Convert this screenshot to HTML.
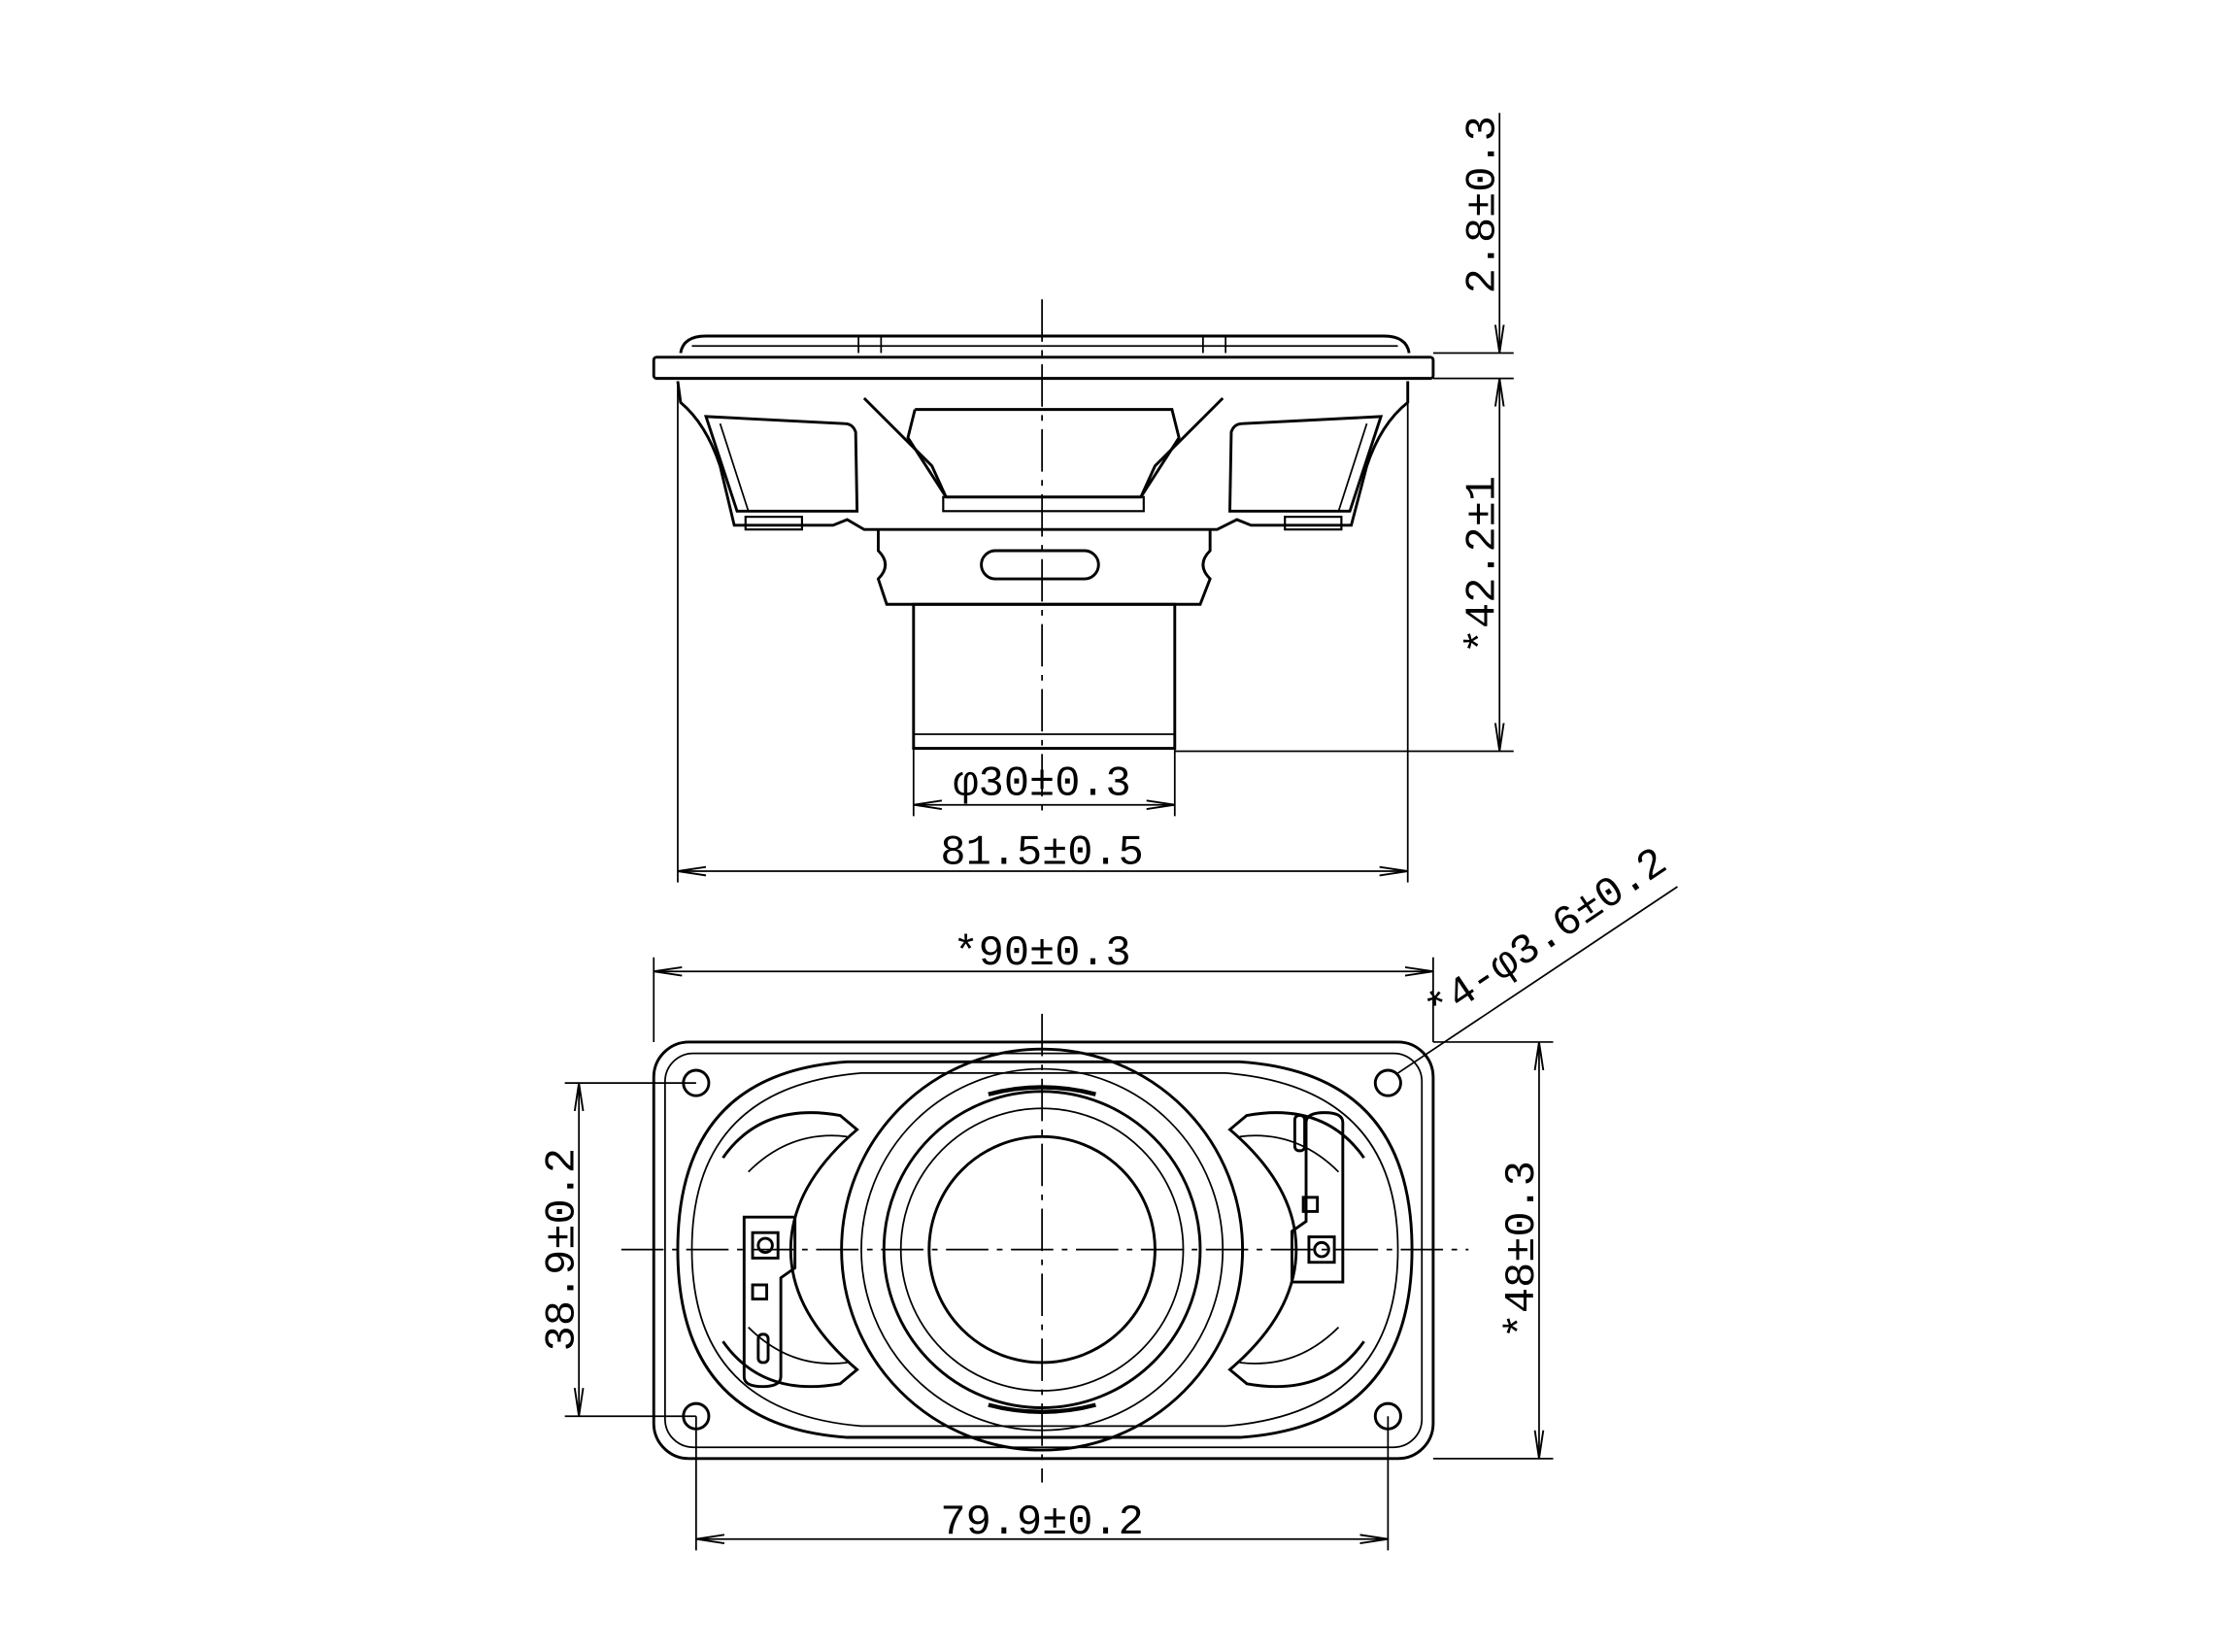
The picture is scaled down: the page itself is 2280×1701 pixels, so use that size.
<!DOCTYPE html>
<html><head><meta charset="utf-8"><style>
html,body{margin:0;padding:0;background:#fff;}
svg{display:block;}
text{font-family:"Liberation Mono","DejaVu Sans Mono",monospace;font-size:30px;fill:#000;}
</style></head><body>
<svg width="2280" height="1701" viewBox="0 0 1568 1170" preserveAspectRatio="none" xmlns="http://www.w3.org/2000/svg">
<defs>
<marker id="a" viewBox="0 0 20 8" refX="20" refY="4" markerWidth="20" markerHeight="8" markerUnits="userSpaceOnUse" orient="auto-start-reverse"><path d="M0,1 L20,4 L0,7" fill="none" stroke="#000" stroke-width="1.3"/></marker>
</defs>
<g fill="none" stroke="#000" stroke-width="2">
<path d="M482,250 Q484,238 500,238 L980,238 Q996,238 998,250"/>
<line x1="490" y1="245" x2="990" y2="245" stroke-width="1.2"/>
<rect x="463" y="253" width="552" height="15" rx="2"/>
<line x1="608" y1="238" x2="608" y2="250" stroke-width="1.2"/><line x1="624" y1="238" x2="624" y2="250" stroke-width="1.2"/>
<line x1="852" y1="238" x2="852" y2="250" stroke-width="1.2"/><line x1="868" y1="238" x2="868" y2="250" stroke-width="1.2"/>
<path d="M480,270 L482,285 Q500,300 510,330 L520,372 L590,372 L600,368 L612,375 L862,375 L876,368 L886,372 L957,372 L968,330 Q978,300 997,285 L997,270"/>
<path d="M500,295 L598,300 Q604,300 606,306 L607,362 L522,362 Z"/>
<path d="M510,300 L530,362" stroke-width="1.2"/>
<path d="M978,295 L880,300 Q874,300 872,306 L871,362 L956,362 Z"/>
<path d="M968,300 L948,362" stroke-width="1.2"/>
<path d="M612,282 L660,330 L670,352 L808,352 L818,330 L866,282"/>
<path d="M648,290 L830,290 L835,310 L808,352 M648,290 L643,310 L670,352"/>
<rect x="668" y="352" width="142" height="10" stroke-width="1.5"/>
<rect x="528" y="366" width="40" height="9" stroke-width="1.5"/>
<rect x="910" y="366" width="40" height="9" stroke-width="1.5"/>
<path d="M622,375 L622,390 Q632,400 622,410 L628,428 L850,428 L857,410 Q847,400 857,390 L857,375"/>
<rect x="695" y="390" width="83" height="20" rx="10"/>
<rect x="647" y="428" width="185" height="102"/>
<line x1="647" y1="520" x2="832" y2="520" stroke-width="1.2"/>
<rect x="463" y="738" width="552" height="295" rx="25"/>
<rect x="471" y="746" width="536" height="279" rx="20" stroke-width="1.2"/>
<circle cx="493" cy="767" r="9"/><circle cx="983" cy="767" r="9"/>
<circle cx="493" cy="1003" r="9"/><circle cx="983" cy="1003" r="9"/>
<path d="M600,752 L878,752 Q1000,760 1000,885 Q1000,1010 878,1018 L600,1018 Q480,1010 480,885 Q480,760 600,752 Z"/>
<path d="M610,760 L868,760 Q990,770 990,885 Q990,1000 868,1010 L610,1010 Q490,1000 490,885 Q490,770 610,760 Z" stroke-width="1.2"/>
<circle cx="738" cy="885" r="142"/>
<circle cx="738" cy="885" r="128" stroke-width="1.2"/>
<circle cx="738" cy="885" r="112"/>
<circle cx="738" cy="885" r="100" stroke-width="1.2"/>
<circle cx="738" cy="885" r="80"/>
<path d="M700,775 Q738,765 776,775 M700,995 Q738,1005 776,995" stroke-width="3"/>
<path d="M512,820 Q540,780 595,790 L607,800 Q560,840 560,885 Q560,930 607,970 L595,980 Q540,990 512,950"/>
<path d="M530,830 Q560,800 600,805 M530,940 Q560,970 600,965" stroke-width="1.2"/>
<path d="M966,820 Q938,780 883,790 L871,800 Q918,840 918,885 Q918,930 871,970 L883,980 Q938,990 966,950"/>
<path d="M948,830 Q918,800 878,805 M948,940 Q918,970 878,965" stroke-width="1.2"/>
<path d="M527,862 L527,975 Q527,982 540,982 Q553,982 553,975 L553,905 L563,898 L563,862 Z"/>
<rect x="533" y="873" width="18" height="18"/><circle cx="542" cy="882" r="5"/>
<rect x="533" y="910" width="10" height="10"/><rect x="537" y="945" width="7" height="20" rx="3"/>
<path d="M951,908 L951,795 Q951,788 938,788 Q925,788 925,795 L925,865 L915,872 L915,908 Z"/>
<rect x="927" y="876" width="18" height="18"/><circle cx="936" cy="885" r="5"/>
<rect x="923" y="848" width="10" height="10"/><rect x="917" y="790" width="7" height="25" rx="3"/>
</g>
<g fill="none" stroke="#000" stroke-width="1.2">
<line x1="738" y1="212" x2="738" y2="580" stroke-dasharray="30,6,4,6"/>
<line x1="738" y1="718" x2="738" y2="1050" stroke-dasharray="30,6,4,6"/>
<line x1="440" y1="885" x2="1040" y2="885" stroke-dasharray="30,6,4,6"/>
<line x1="480" y1="270" x2="480" y2="625"/><line x1="997" y1="270" x2="997" y2="625"/>
<line x1="480" y1="617" x2="997" y2="617" marker-start="url(#a)" marker-end="url(#a)"/>
<line x1="647" y1="530" x2="647" y2="578"/><line x1="832" y1="530" x2="832" y2="578"/>
<line x1="647" y1="570" x2="832" y2="570" marker-start="url(#a)" marker-end="url(#a)"/>
<line x1="1015" y1="250" x2="1072" y2="250"/><line x1="1015" y1="268" x2="1072" y2="268"/>
<line x1="832" y1="532" x2="1072" y2="532"/>
<line x1="1062" y1="80" x2="1062" y2="250" marker-end="url(#a)"/>
<line x1="1062" y1="268" x2="1062" y2="532" marker-start="url(#a)" marker-end="url(#a)"/>
<line x1="463" y1="678" x2="463" y2="738"/><line x1="1015" y1="678" x2="1015" y2="738"/>
<line x1="463" y1="688" x2="1015" y2="688" marker-start="url(#a)" marker-end="url(#a)"/>
<line x1="493" y1="1003" x2="493" y2="1098"/><line x1="983" y1="1003" x2="983" y2="1098"/>
<line x1="493" y1="1090" x2="983" y2="1090" marker-start="url(#a)" marker-end="url(#a)"/>
<line x1="400" y1="767" x2="493" y2="767"/><line x1="400" y1="1003" x2="493" y2="1003"/>
<line x1="410" y1="767" x2="410" y2="1003" marker-start="url(#a)" marker-end="url(#a)"/>
<line x1="1015" y1="738" x2="1100" y2="738"/><line x1="1015" y1="1033" x2="1100" y2="1033"/>
<line x1="1090" y1="738" x2="1090" y2="1033" marker-start="url(#a)" marker-end="url(#a)"/>
<line x1="990" y1="760" x2="1188" y2="628"/>
</g>
<g>
<text x="738" y="563" text-anchor="middle">φ30±0.3</text>
<text x="738" y="612" text-anchor="middle">81.5±0.5</text>
<text transform="translate(1058,145) rotate(-90)" text-anchor="middle">2.8±0.3</text>
<text transform="translate(1058,400) rotate(-90)" text-anchor="middle">*42.2±1</text>
<text x="738" y="683" text-anchor="middle">*90±0.3</text>
<text x="738" y="1086" text-anchor="middle">79.9±0.2</text>
<text transform="translate(406,885) rotate(-90)" text-anchor="middle">38.9±0.2</text>
<text transform="translate(1086,885) rotate(-90)" text-anchor="middle">*48±0.3</text>
<text transform="translate(1100,670) rotate(-34)" text-anchor="middle">*4-φ3.6±0.2</text>
</g>
</svg>
</body></html>
